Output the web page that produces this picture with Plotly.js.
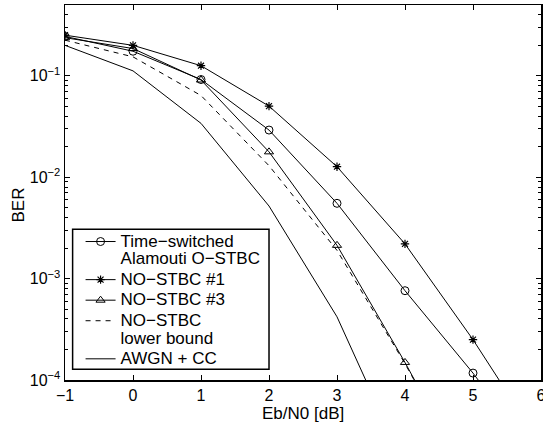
<!DOCTYPE html>
<html>
<head>
<meta charset="utf-8">
<script src="https://cdn.plot.ly/plotly-3.0.1.min.js"></script>
<style>html,body{margin:0;padding:0;background:#fff;}#chart{width:543px;height:424px;}</style>
</head>
<body>
<div id="chart"></div>
<script>
var ebn0 = [-1, 0, 1, 2, 3, 4, 5, 6];
var berTimeSwitched = [0.245, 0.175, 0.092, 0.0292, 0.00553, 7.6e-4, 1.17e-4, 1.5e-5];
var berNoStbc1 = [0.252, 0.200, 0.126, 0.0503, 0.0127, 0.0022, 2.5e-4, 2.3e-5];
var berNoStbc3 = [0.238, 0.186, 0.091, 0.0178, 0.00213, 1.49e-4, 8.7e-6];
var berLowerBound = [0.225, 0.154, 0.064, 0.013, 0.0019, 1.45e-4, 9e-6];
var berAwgnCc = [0.200, 0.112, 0.034, 0.0052, 4.2e-4, 1.4e-5];
var seriesNames = ["Time\u2212switched<br>Alamouti O\u2212STBC", "NO\u2212STBC #1", "NO\u2212STBC #3", "NO\u2212STBC<br>lower bound", "AWGN + CC"];
var xTitle = "Eb/N0 [dB]";
var yTitle = "BER";
var yTickVals = [1e-4, 1e-3, 1e-2, 1e-1];
var yTickText = ["10<sup>\u22124</sup>", "10<sup>\u22123</sup>", "10<sup>\u22122</sup>", "10<sup>\u22121</sup>"];
var xTickVals = [-1, 0, 1, 2, 3, 4, 5, 6];
var xTickText = ["\u22121", "0", "1", "2", "3", "4", "5", "6"];

var minorVals = [];
for (var e = -4; e <= -1; e++) {
  for (var m = 2; m <= 9; m++) {
    var v = m * Math.pow(10, e);
    if (v <= 0.5) minorVals.push(v);
  }
}

function big(t) {
  return t.split('<br>').map(function (s) { return '<span style="font-size:17px">' + s + '</span>'; }).join('<br>');
}

var lineStyle = {color: 'black', width: 1};
var traces = [
  {x: ebn0, y: berTimeSwitched, name: big(seriesNames[0]), mode: 'lines+markers', line: lineStyle,
   marker: {symbol: 'circle-open', size: 8, color: 'black', line: {width: 1}}},
  {x: ebn0, y: berNoStbc1, name: big(seriesNames[1]), mode: 'lines+markers', line: lineStyle,
   marker: {symbol: 'asterisk-open', size: 7, color: 'black', line: {width: 1.2, color: 'black'}}},
  {x: ebn0.slice(0, berNoStbc3.length), y: berNoStbc3, name: big(seriesNames[2]), mode: 'lines+markers', line: lineStyle,
   marker: {symbol: 'triangle-up-open', size: 8, color: 'black', line: {width: 1}}},
  {x: ebn0.slice(0, berLowerBound.length), y: berLowerBound, name: big(seriesNames[3]), mode: 'lines',
   line: {color: 'black', width: 1, dash: '5px,5px'}},
  {x: ebn0.slice(0, berAwgnCc.length), y: berAwgnCc, name: big(seriesNames[4]), mode: 'lines', line: lineStyle}
];

var fontFam = 'Liberation Sans, Arial, Helvetica, sans-serif';
var layout = {
  width: 543, height: 424,
  margin: {l: 65, r: 2, t: 5, b: 44, autoexpand: false},
  paper_bgcolor: 'white', plot_bgcolor: 'white',
  font: {family: fontFam, size: 16, color: 'black'},
  showlegend: true,
  legend: {
    x: 0.0327, y: 0.41, xanchor: 'left', yanchor: 'top',
    borderwidth: 0, bgcolor: 'rgba(0,0,0,0)',
    font: {family: fontFam, size: 13.5, color: 'black'},
    valign: 'top', tracegroupgap: 0
  },
  shapes: [{
    type: 'rect', xref: 'paper', yref: 'paper', layer: 'above',
    x0: 0.016, x1: 0.4286, y0: 0.0285, y1: 0.4019,
    line: {color: 'black', width: 1.5}, fillcolor: 'white'
  }],
  annotations: [
    {text: xTitle, xref: 'paper', yref: 'paper', x: 0.5, y: -0.089, xanchor: 'center', yanchor: 'middle',
     showarrow: false, font: {size: 17}},
    {text: yTitle, xref: 'paper', yref: 'paper', x: -0.0977, y: 0.4667, xanchor: 'center', yanchor: 'middle',
     textangle: -90, showarrow: false, font: {size: 17}}
  ],
  xaxis: {
    range: [-1, 6], tickvals: xTickVals, ticktext: xTickText,
    ticks: 'inside', ticklen: 5, tickwidth: 1, tickcolor: 'black',
    showline: true, linecolor: 'black', linewidth: 1.5, mirror: 'ticks',
    showgrid: false, zeroline: false, ticklabeloverflow: 'allow',
    tickfont: {size: 16}
  },
  yaxis: {
    type: 'log', range: [-4, Math.log10(0.5)],
    tickvals: yTickVals, ticktext: yTickText,
    ticks: 'inside', ticklen: 5, tickwidth: 1, tickcolor: 'black',
    showline: true, linecolor: 'black', linewidth: 1.5, mirror: 'ticks',
    showgrid: false, zeroline: false,
    minor: {tickvals: minorVals, ticks: 'inside', ticklen: 3, tickwidth: 1, tickcolor: 'black', showgrid: false},
    tickfont: {size: 16}
  }
};

Plotly.newPlot('chart', traces, layout, {displayModeBar: false, staticPlot: true});
</script>
</body>
</html>
